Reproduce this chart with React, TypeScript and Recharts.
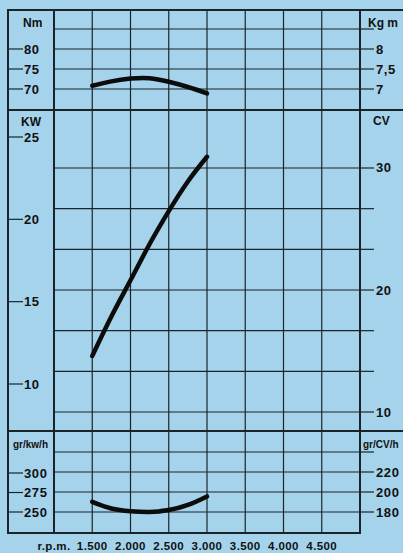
import React from 'react';
import { LineChart, Line, XAxis, YAxis, CartesianGrid } from 'recharts';

// engine curves, every 250 rpm
const rpm = [1500, 1750, 2000, 2250, 2500, 2750, 3000];
const torqueNm = [70.8, 71.9, 72.6, 72.7, 71.8, 70.5, 68.9];
const powerKw = [11.7, 14.1, 16.3, 18.5, 20.5, 22.3, 23.8];
const consumption = [263, 254.5, 251, 250, 252.5, 259, 270];

// axis ticks
const rpmTicks = [1000, 1500, 2000, 2500, 3000, 3500, 4000, 4500, 5000];
const nmTicks = [70, 75, 80];
const kgmTicks = [7, 7.5, 8, 8.5];
const kgmLabels = [7, 7.5, 8];
const kwTicks = [10, 15, 20, 25];
const cvTicks = [10, 40 / 3, 50 / 3, 20, 70 / 3, 80 / 3, 30];
const cvLabels = [10, 20, 30];
const grKwTicks = [250, 275, 300];
const grCvTicks = [180, 200, 220, 240];
const grCvLabels = [180, 200, 220];

const data = rpm.map((r, i) => ({
  rpm: r,
  torque: torqueNm[i],
  power: powerKw[i],
  cons: consumption[i],
}));

const INK = '#1b2529';
const BG = '#a5d3eb';
const FONT = '"Liberation Sans", Arial, sans-serif';

const fmt = (v: number) => String(v).replace('.', ',');

const leftTick = (props: any) => {
  const { y, payload } = props;
  return (
    <g>
      <line x1={8} x2={23} y1={y} y2={y} stroke={INK} strokeWidth={1.2} />
      <text x={24} y={y} dy={4.5} fontSize={13} fontWeight={700} fill="#111" fontFamily={FONT} letterSpacing={0.6}>
        {payload.value}
      </text>
    </g>
  );
};

const rightTick = (labels: number[]) => (props: any) => {
  const { y, payload } = props;
  const show = labels.some((l) => Math.abs(l - payload.value) < 0.01);
  return (
    <g>
      <line x1={360} x2={374} y1={y} y2={y} stroke={INK} strokeWidth={1.2} />
      {show && (
        <text x={376} y={y} dy={4.5} fontSize={13} fontWeight={700} fill="#111" fontFamily={FONT} letterSpacing={0.6}>
          {fmt(payload.value)}
        </text>
      )}
    </g>
  );
};

// 1000 carries the "r.p.m." caption, 5000 is only a grid line
const rpmTick = (props: any) => {
  const { x, payload } = props;
  if (payload.value === 5000) return <g />;
  const v = payload.value as number;
  const label = v === 1000 ? 'r.p.m.' : `${Math.floor(v / 1000)}.${String(v % 1000).padStart(3, '0')}`;
  return (
    <text x={x} y={119} textAnchor="middle" fontSize={11.5} fontWeight={700} fill="#111" fontFamily={FONT} letterSpacing={0.4}>
      {label}
    </text>
  );
};

const margin = { top: 0, right: 0, bottom: 0, left: 8 };

const unit = (left: number, top: number, size = 12): React.CSSProperties => ({
  position: 'absolute',
  left,
  top,
  fontSize: size,
  fontWeight: 700,
  fontFamily: FONT,
  color: '#111',
  lineHeight: 1,
  whiteSpace: 'nowrap',
});

const bar = (left: number, top: number, width: number, height: number): React.CSSProperties => ({
  position: 'absolute',
  left,
  top,
  width,
  height,
  background: INK,
});

export default function App() {
  return (
    <div style={{ position: 'absolute', left: 0, top: 0, width: 403, height: 553, background: BG, overflow: 'hidden' }}>
      {/* torque */}
      <div style={{ position: 'absolute', left: 0, top: 10 }}>
        <LineChart width={403} height={100} data={data} margin={margin}>
          <CartesianGrid yAxisId="kgm" stroke={INK} strokeWidth={1.2} />
          <XAxis dataKey="rpm" type="number" domain={[1000, 5000]} ticks={rpmTicks} hide />
          <YAxis yAxisId="nm" orientation="left" width={46} domain={[64.75, 89.75]} ticks={nmTicks} interval={0} allowDataOverflow axisLine={false} tickLine={false} tick={leftTick} />
          <YAxis yAxisId="kgm" orientation="right" width={43} domain={[6.475, 8.975]} ticks={kgmTicks} interval={0} allowDataOverflow axisLine={false} tickLine={false} tick={rightTick(kgmLabels)} />
          <Line yAxisId="nm" type="natural" dataKey="torque" stroke="#0c0c0c" strokeWidth={4.5} strokeLinecap="round" dot={false} isAnimationActive={false} />
        </LineChart>
      </div>

      {/* power */}
      <div style={{ position: 'absolute', left: 0, top: 110 }}>
        <LineChart width={403} height={321} data={data} margin={margin}>
          <CartesianGrid yAxisId="cv" stroke={INK} strokeWidth={1.2} />
          <XAxis dataKey="rpm" type="number" domain={[1000, 5000]} ticks={rpmTicks} hide />
          <YAxis yAxisId="kw" orientation="left" width={46} domain={[7.146, 26.64]} ticks={kwTicks} interval={0} allowDataOverflow axisLine={false} tickLine={false} tick={leftTick} />
          <YAxis yAxisId="cv" orientation="right" width={43} domain={[8.443, 34.754]} ticks={cvTicks} interval={0} allowDataOverflow axisLine={false} tickLine={false} tick={rightTick(cvLabels)} />
          <Line yAxisId="kw" type="natural" dataKey="power" stroke="#0c0c0c" strokeWidth={4.5} strokeLinecap="round" dot={false} isAnimationActive={false} />
        </LineChart>
      </div>

      {/* specific consumption */}
      <div style={{ position: 'absolute', left: 0, top: 431 }}>
        <LineChart width={403} height={123} data={data} margin={margin}>
          <CartesianGrid yAxisId="grcv" stroke={INK} strokeWidth={1.2} />
          <XAxis dataKey="rpm" type="number" domain={[1000, 5000]} ticks={rpmTicks} interval={0} height={21} axisLine={false} tickLine={false} tick={rpmTick} />
          <YAxis yAxisId="grkw" orientation="left" width={46} domain={[223.08, 353.85]} ticks={grKwTicks} interval={0} allowDataOverflow axisLine={false} tickLine={false} tick={leftTick} />
          <YAxis yAxisId="grcv" orientation="right" width={43} domain={[159, 261]} ticks={grCvTicks} interval={0} allowDataOverflow axisLine={false} tickLine={false} tick={rightTick(grCvLabels)} />
          <Line yAxisId="grkw" type="natural" dataKey="cons" stroke="#0c0c0c" strokeWidth={4.5} strokeLinecap="round" dot={false} isAnimationActive={false} />
        </LineChart>
      </div>

      {/* frame */}
      <div style={bar(7, 9, 396, 2)} />
      <div style={bar(7, 109, 396, 2)} />
      <div style={bar(7, 430, 396, 2)} />
      <div style={bar(7, 532, 354, 2)} />
      <div style={bar(7, 9, 2, 525)} />
      <div style={bar(53, 9, 2, 525)} />
      <div style={bar(359, 9, 2, 525)} />

      {/* unit names */}
      <div style={unit(23, 17)}>Nm</div>
      <div style={unit(368, 17)}>Kg m</div>
      <div style={unit(21, 116)}>KW</div>
      <div style={unit(373, 115)}>CV</div>
      <div style={unit(13, 440, 10)}>gr/kw/h</div>
      <div style={unit(363, 440, 10)}>gr/CV/h</div>
    </div>
  );
}
